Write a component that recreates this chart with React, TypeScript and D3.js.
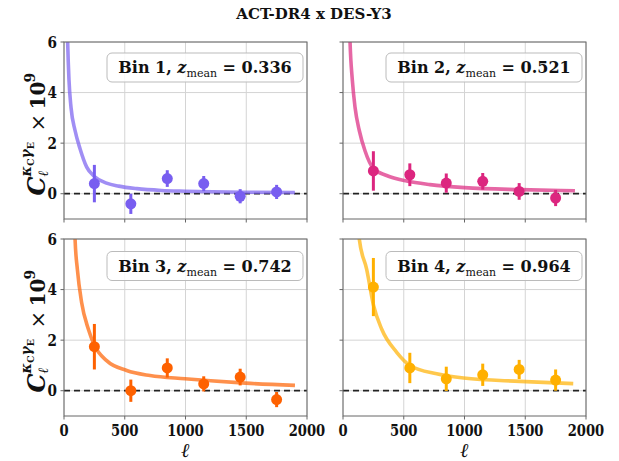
import React from "react";
import * as d3 from "d3";

// ---------- data ----------
const ELL = [250, 550, 850, 1150, 1450, 1750];
const BIN_NAMES = ["Bin 1", "Bin 2", "Bin 3", "Bin 4"];
const Z_MEAN = ["0.336", "0.521", "0.742", "0.964"];
const COLORS = ["#785EF0", "#DC267F", "#FE6100", "#FFB000"];

const CL_BIN1 = [0.4, -0.4, 0.6, 0.4, -0.1, 0.07];
const ERR_BIN1 = [0.74, 0.4, 0.33, 0.3, 0.28, 0.28];
const CL_BIN2 = [0.9, 0.75, 0.42, 0.49, 0.09, -0.17];
const ERR_BIN2 = [0.78, 0.45, 0.38, 0.33, 0.33, 0.32];
const CL_BIN3 = [1.74, 0.0, 0.9, 0.27, 0.54, -0.35];
const ERR_BIN3 = [0.9, 0.44, 0.38, 0.3, 0.33, 0.3];
const CL_BIN4 = [4.1, 0.9, 0.47, 0.63, 0.84, 0.42];
const ERR_BIN4 = [1.15, 0.6, 0.48, 0.44, 0.38, 0.42];

const TH_ELL_BIN1 = [25, 30, 41, 58, 91, 132, 187, 250, 350, 450, 600, 800, 1000, 1480, 1900];
const TH_CL_BIN1 = [7.0, 6.0, 4.5, 3.4, 2.5, 1.78, 1.05, 0.68, 0.42, 0.3, 0.2, 0.13, 0.1, 0.06, 0.05];
const TH_ELL_BIN2 = [52, 58, 77, 99, 134, 181, 250, 359, 524, 716, 1000, 1457, 1909];
const TH_CL_BIN2 = [7.0, 6.0, 4.48, 3.42, 2.5, 1.7, 1.0, 0.72, 0.5, 0.36, 0.24, 0.16, 0.12];
const TH_ELL_BIN3 = [85, 91, 110, 145, 200, 250, 351, 516, 708, 996, 1495, 1901];
const TH_CL_BIN3 = [7.0, 6.0, 4.8, 3.49, 2.44, 1.8, 1.19, 0.8, 0.6, 0.47, 0.3, 0.21];
const TH_ELL_BIN4 = [125, 134, 195, 252, 318, 442, 551, 771, 993, 1457, 1895];
const TH_CL_BIN4 = [7.0, 6.0, 4.8, 3.36, 2.44, 1.52, 1.0, 0.67, 0.5, 0.37, 0.28];

const X_TICKS = [0, 500, 1000, 1500, 2000];
const Y_TICKS = [0, 2, 4, 6];
const X_DOMAIN = [0, 2000];
const Y_DOMAIN = [-1, 6];
const TITLE = "ACT-DR4 x DES-Y3";

const CLS = [CL_BIN1, CL_BIN2, CL_BIN3, CL_BIN4];
const ERRS = [ERR_BIN1, ERR_BIN2, ERR_BIN3, ERR_BIN4];
const TH_ELLS = [TH_ELL_BIN1, TH_ELL_BIN2, TH_ELL_BIN3, TH_ELL_BIN4];
const TH_CLS = [TH_CL_BIN1, TH_CL_BIN2, TH_CL_BIN3, TH_CL_BIN4];

// ---------- layout ----------
const W = 619;
const H = 461;
const COL_X = [64, 343];
const PW = 243;
const ROW_Y = [42, 239];
const PH = 177;
const FONT = "DejaVu Serif";
const F = { fontFamily: FONT };

function Panel({ idx }: { idx: number }) {
  const col = idx % 2;
  const row = Math.floor(idx / 2);
  const x0 = COL_X[col];
  const y0 = ROW_Y[row];
  const x = d3.scaleLinear().domain(X_DOMAIN).range([x0, x0 + PW]);
  const y = d3.scaleLinear().domain(Y_DOMAIN).range([y0 + PH, y0]);
  const color = COLORS[idx];
  const clipId = `clip-${idx}`;
  const thData = TH_ELLS[idx].map((l, i) => [l, TH_CLS[idx][i]] as [number, number]);
  const line = d3
    .line<[number, number]>()
    .x((d) => x(d[0]))
    .y((d) => y(d[1]))
    .curve(d3.curveMonotoneX);
  const bx = x0 + PW - 4 - 196;
  const by = y0 + (row === 0 ? 11 : 12.5);
  return (
    <g>
      <defs>
        <clipPath id={clipId}>
          <rect x={x0} y={y0} width={PW} height={PH} />
        </clipPath>
      </defs>
      {X_TICKS.map((t) => (
        <line key={"gx" + t} x1={x(t)} x2={x(t)} y1={y0} y2={y0 + PH} stroke="#d4d4d4" strokeWidth={1} />
      ))}
      {Y_TICKS.map((t) => (
        <line key={"gy" + t} x1={x0} x2={x0 + PW} y1={y(t)} y2={y(t)} stroke="#d4d4d4" strokeWidth={1} />
      ))}
      <g clipPath={`url(#${clipId})`}>
        <line x1={x0} x2={x0 + PW} y1={y(0)} y2={y(0)} stroke="#222" strokeWidth={1.8} strokeDasharray="6,4" />
        <path d={line(thData) || ""} fill="none" stroke={color} strokeOpacity={0.7} strokeWidth={3.6} />
      </g>
      {ELL.map((l, i) => {
        const v = CLS[idx][i];
        const e = ERRS[idx][i];
        return (
          <g key={"p" + i}>
            <line x1={x(l)} x2={x(l)} y1={y(v - e)} y2={y(v + e)} stroke={color} strokeWidth={3} />
            <circle cx={x(l)} cy={y(v)} r={5.5} fill={color} />
          </g>
        );
      })}
      <rect x={x0} y={y0} width={PW} height={PH} fill="none" stroke="#666" strokeWidth={1} />
      {X_TICKS.map((t) => (
        <line key={"tx" + t} x1={x(t)} x2={x(t)} y1={y0 + PH} y2={y0 + PH + 3.5} stroke="#666" strokeWidth={1} />
      ))}
      {Y_TICKS.map((t) => (
        <line key={"ty" + t} x1={x0 - 3.5} x2={x0} y1={y(t)} y2={y(t)} stroke="#666" strokeWidth={1} />
      ))}
      {col === 0 &&
        Y_TICKS.map((t) => (
          <g key={"ly" + t} transform={`translate(${x0 - 7},${y(t)}) scale(0.85,1)`}>
            <text x={0} y={0} dy="0.36em" textAnchor="end" style={F} fontWeight="bold" fontSize={16} fill="#111">
              {t}
            </text>
          </g>
        ))}
      {row === 1 &&
        X_TICKS.map((t) => (
          <g key={"lx" + t} transform={`translate(${x(t)},${y0 + PH + 20}) scale(0.82,1)`}>
            <text x={0} y={0} textAnchor="middle" style={F} fontWeight="bold" fontSize={16} fill="#111">
              {t}
            </text>
          </g>
        ))}
      {row === 1 && (
        <text x={x0 + PW / 2} y={H - 4} textAnchor="middle" style={F} fontWeight="bold" fontStyle="italic" fontSize={20} fill="#111">
          ℓ
        </text>
      )}
      <rect x={bx} y={by} width={196} height={29} rx={5} ry={5} fill="white" fillOpacity={0.85} stroke="#bbb" strokeWidth={1} />
      <text x={bx + 98} y={by + 20} textAnchor="middle" style={F} fontWeight="bold" fontSize={16} fill="#111">
        <tspan>{BIN_NAMES[idx] + ", "}</tspan>
        <tspan fontStyle="italic">z</tspan>
        <tspan fontSize={11} fontWeight="normal" dy={4}>mean</tspan>
        <tspan dy={-4}>{" = " + Z_MEAN[idx]}</tspan>
      </text>
      {col === 0 && <YLabel cx={45} cy={y0 + PH / 2} />}
    </g>
  );
}

function YLabel({ cx, cy }: { cx: number; cy: number }) {
  return (
    <g transform={`translate(${cx},${cy}) rotate(-90)`} style={F} fill="#111">
      <text x={-65} y={0} fontSize={24} fontStyle="italic" fontWeight="bold" style={F}>C</text>
      <text x={-46} y={-14} fontSize={14} fontStyle="italic" fontWeight="bold" style={F}>
        <tspan>κ</tspan>
        <tspan fontSize={9.5} fontStyle="normal" dy={3}>C</tspan>
        <tspan fontSize={14} dy={-3}>γ</tspan>
        <tspan fontSize={9.5} fontStyle="normal" dy={3}>E</tspan>
      </text>
      <text x={-46} y={3} fontSize={14} fontStyle="italic" fontWeight="bold" style={F}>ℓ</text>
      <text x={-1} y={0} fontSize={21} style={F}>×</text>
      <text x={21} y={0} fontSize={20} fontWeight="bold" style={F}>10</text>
      <text x={48} y={-10} fontSize={14} fontWeight="bold" style={F}>9</text>
    </g>
  );
}

export default function App() {
  return (
    <svg width={W} height={H} style={{ display: "block", position: "absolute", left: 0, top: 0, background: "white" }}>
      <text x={314} y={19} textAnchor="middle" style={F} fontWeight="bold" fontSize={15} fill="#111">
        {TITLE}
      </text>
      {[0, 1, 2, 3].map((i) => (
        <Panel key={i} idx={i} />
      ))}
    </svg>
  );
}
